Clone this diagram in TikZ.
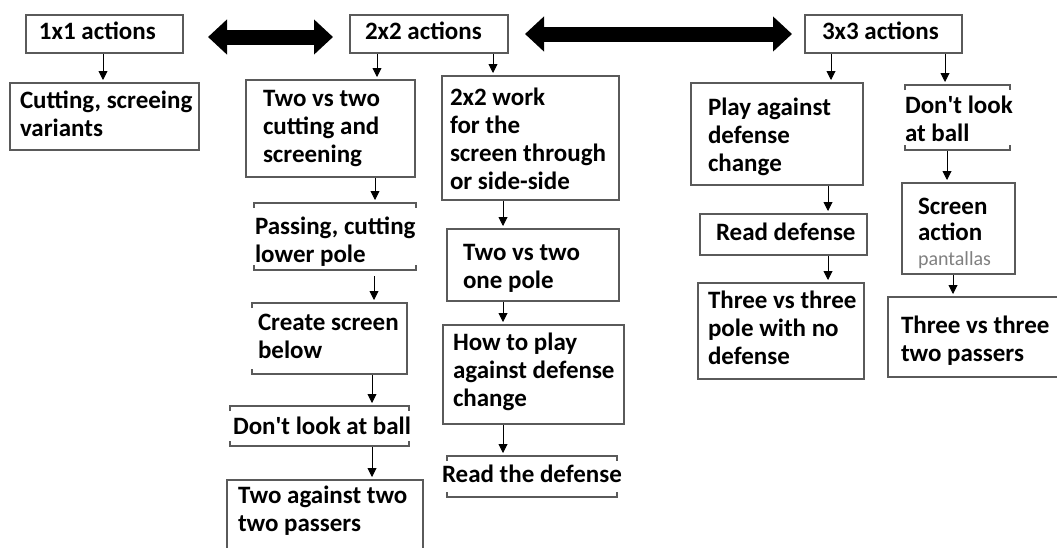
\documentclass[tikz,border=0pt]{standalone}
\usepackage{fontspec}
\setmainfont{Carlito}
\usetikzlibrary{arrows.meta}
\definecolor{boxgray}{HTML}{5A5A5A}
\newcommand\tx[4][0]{\makebox[#2pt][l]{\hspace*{#3pt}\raisebox{-#1pt}[\height][\depth]{\begin{tabular}{@{}l@{}}#4\end{tabular}}}}
\newcommand\brk[1]{%
  \draw[bline] ([yshift=-5pt]#1.north west) -- (#1.north west) -- (#1.north east) -- ([yshift=-5pt]#1.north east);
  \draw[bline] ([yshift=5pt]#1.south west) -- (#1.south west) -- (#1.south east) -- ([yshift=5pt]#1.south east);}
\newcommand\varr[3]{\draw[arr] ([xshift=#3pt]#1.south) coordinate (tmp) -- (tmp |- #2.north);}
\begin{document}
\begin{tikzpicture}[x=1pt,y=-1pt,
  box/.style={draw=boxgray, line width=1.3pt, anchor=north west, inner sep=0pt, outer sep=0pt,
    font=\bfseries\fontsize{25}{28}\selectfont},
  brkbox/.style={box, draw=none},
  bline/.style={draw=boxgray, line width=1.3pt},
  arr/.style={draw=black, line width=0.9pt, -{Triangle[width=9pt,length=9pt]}, shorten <=1pt, shorten >=3pt},
  blk/.style={draw=black, line width=15pt, {Triangle[length=19pt 0 0,width=34pt 0 0]}-{Triangle[length=19pt 0 0,width=34pt 0 0]}}
]
\clip (0,0) rectangle (1057,547);
\fill[white] (0,0) rectangle (1057,547);
% headers
\node[box, minimum height=38pt] (A) at (26,15) {\tx{157}{13}{1x1 actions}};
\node[box, minimum height=38pt] (B) at (350,15) {\tx{158}{15}{2x2 actions}};
\node[box, minimum height=38pt] (C) at (805,15) {\tx{157}{17}{3x3 actions}};
% 1x1
\node[box, minimum height=67pt] (D) at (10,83) {\tx{189}{10}{Cutting, screeing\\variants}};
% 2x2 left column
\node[box, minimum height=97pt] (E) at (246,80) {\tx{169}{17}{Two vs two\\cutting and\\screening}};
\node[brkbox, minimum height=67pt] (G) at (254,203) {\tx[6]{162}{1}{Passing, cutting\\lower pole}};
\node[brkbox, minimum height=71pt] (H) at (252,303) {\tx{155}{6}{Create screen\\below}};
\node[brkbox, minimum height=40pt] (I) at (230,406) {\tx[3]{179}{3}{Don\textquotesingle t look at ball}};
\node[box, inner ysep=4pt] (J) at (227,480) {\tx{196}{11}{Two against two\\two passers\\[40pt]}};
% 2x2 right column
\node[box, minimum height=124pt] (F) at (442,76) {\tx[4]{177}{8}{2x2 work\\for the\\screen through\\or side-side}};
\node[box, minimum height=72pt] (K) at (447,229) {\tx[4]{172}{16}{Two vs two\\one pole}};
\node[box, minimum height=99pt] (L) at (443,325) {\tx[-2]{181}{10}{How to play\\against defense\\change}};
\node[brkbox, minimum height=41pt] (M) at (447,456) {\tx{170}{-5}{Read the defense}};
% 3x3 left column
\node[box, minimum height=102pt] (N) at (691,83) {\tx[4]{172}{17}{Play against\\defense\\change}};
\node[box, minimum height=41pt] (O) at (700,214) {\tx{167}{16}{Read defense}};
\node[box, minimum height=96pt] (P) at (698,283) {\tx{166}{10}{Three vs three\\pole with no\\defense}};
% 3x3 right column
\node[brkbox, minimum height=65pt] (Q) at (905,85) {\tx[4]{105}{0}{Don\textquotesingle t look\\at ball}};
\node[box, minimum height=91pt] (R) at (902,183) {\tx[6]{113}{16}{Screen\\[-2pt]action\\[-3pt]{\mdseries\fontsize{20}{20}\selectfont\color{gray}pantallas}}};
\node[box, minimum height=80pt] (S) at (888,297) {\tx[5]{182}{13}{Three vs three\\two passers}};
% bracket-style boxes
\brk{G}
\brk{I}
\brk{M}
\brk{Q}
\draw[bline] ([yshift=-5pt]H.north west) -- (H.north west) -- (H.north east) -- (H.south east) -- (H.south west) -- ([yshift=5pt]H.south west);
% block double arrows
\draw[blk] ([shift={(25pt,-3pt)}]A.east) -- ([shift={(-17pt,-3pt)}]B.west);
\draw[blk] ([shift={(17pt,0pt)}]B.east) -- ([shift={(-13pt,0pt)}]C.west);
% thin arrows
\varr{A}{D}{-1.5}
\varr{B}{E}{-52}
\varr{B}{F}{64}
\varr{E}{G}{44.5}
\draw[arr, shorten <=6pt] ([xshift=39pt]G.south) coordinate (tmp) -- (tmp |- H.north);
\varr{H}{I}{42.5}
\varr{I}{J}{52.5}
\varr{F}{K}{-27.5}
\varr{K}{L}{-30}
\varr{L}{M}{-30.5}
\varr{C}{N}{-52.5}
\varr{C}{Q}{61.5}
\varr{N}{O}{51}
\varr{O}{P}{44.5}
\varr{Q}{R}{-10.5}
\varr{R}{S}{-5.5}
\end{tikzpicture}
\end{document}
